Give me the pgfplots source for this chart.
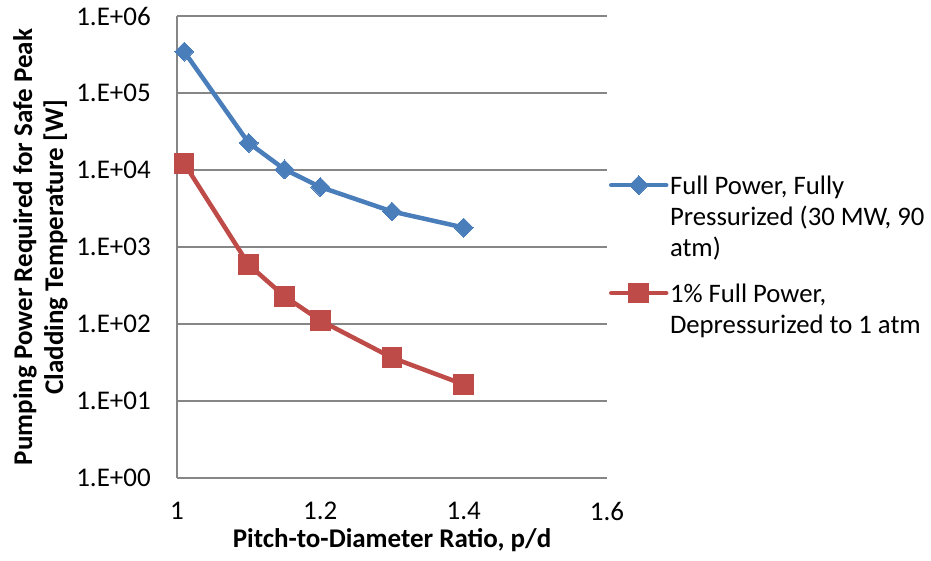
\documentclass[border=0pt]{standalone}
\usepackage{fontspec}
\setmainfont{Carlito}
\usepackage{pgfplots}
\pgfplotsset{compat=1.18}
\definecolor{sblue}{HTML}{4A7EBB}
\definecolor{sred}{HTML}{BE4B48}
\definecolor{gridg}{HTML}{868686}
\begin{document}
\begin{tikzpicture}
\begin{axis}[
  scale only axis, width=430pt, height=462pt,
  ymode=log,
  xmin=1, xmax=1.6, ymin=1, ymax=1e6,
  xtick={1,1.2,1.4,1.6}, xticklabels={1,1.2,1.4,1.6},
  ytick={1,10,100,1000,10000,100000,1000000},
  yticklabels={1.E+00,1.E+01,1.E+02,1.E+03,1.E+04,1.E+05,1.E+06},
  minor ytick={}, yminorticks=false,
  ymajorgrids, grid style={gridg, line width=1.2pt},
  axis x line*=bottom, axis y line*=left,
  axis line style={gridg, line width=1.2pt, -},
  major tick length=0pt, tick style={draw=none},
  ticklabel style={font=\fontsize{27}{31}\selectfont, inner sep=0pt},
  xticklabel style={anchor=north, yshift=-24pt},
  yticklabel style={anchor=east, xshift=-26pt},
  xlabel={\textbf{Pitch-to-Diameter Ratio, p/d}},
  xlabel style={font=\fontsize{27}{31}\selectfont, at={(axis description cs:0.5,0)}, anchor=base, inner sep=0pt, yshift=-70pt},
  ylabel={\textbf{Pumping Power Required for Safe Peak}\\\textbf{Cladding Temperature [W]}},
  ylabel style={font=\fontsize{27}{31}\selectfont, align=center, inner sep=0pt, at={(axis description cs:-0.3814,0.5)}, anchor=north},
  legend style={draw=none, fill=none, at={(axis description cs:1.00465,0.6543)}, anchor=north west,
    inner sep=0pt, outer sep=0pt, row sep=25pt, column sep=1.5pt,
    font=\fontsize{26.7}{31}\selectfont,
    nodes={inner sep=0pt, outer sep=0pt}, cells={anchor=north west, align=left}},
  legend image code/.code={\draw[mark repeat=2,mark phase=2,line cap=round,yshift=-9pt,#1] plot coordinates {(0pt,0pt) (27.5pt,0pt) (55pt,0pt)};},
]
\addplot[sblue, line width=4.5pt, line join=round, mark=square*, mark size=6.7pt, mark options={rotate=45, line width=0pt}] coordinates {
 (1.01,345000) (1.1,22500) (1.15,10200) (1.2,6010) (1.3,2890) (1.4,1790)};
\addlegendentry{Full Power, Fully\\Pressurized (30 MW, 90\\atm)}
\addplot[sred, line width=4.5pt, line join=round, mark=square*, mark size=9.8pt, mark options={line width=0pt}] coordinates {
 (1.01,12200) (1.1,589) (1.15,229) (1.2,111) (1.3,36.5) (1.4,16.4)};
\addlegendentry{1\% Full Power,\\Depressurized to 1 atm}
\end{axis}
\pgfresetboundingbox
\path (current axis.south west) ++(-177pt,-83pt) rectangle ++(931pt,561pt);
\end{tikzpicture}
\end{document}
